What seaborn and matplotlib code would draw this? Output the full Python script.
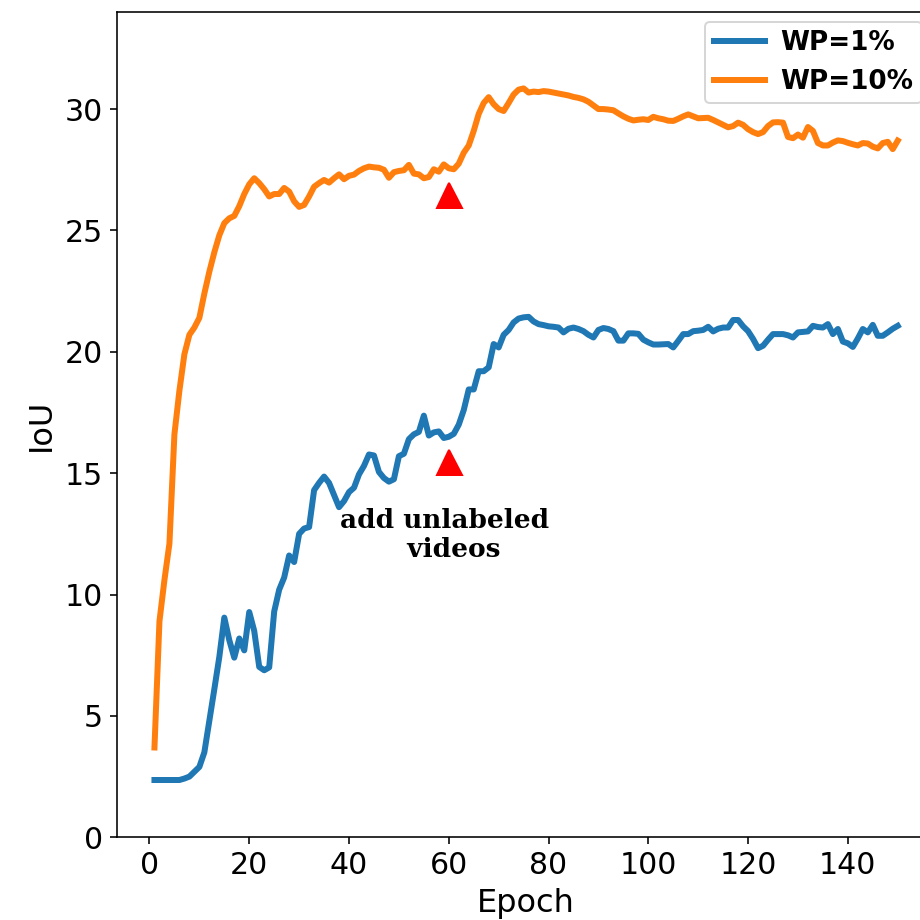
import numpy as np
import pandas as pd
import matplotlib
matplotlib.use("Agg")
import matplotlib.pyplot as plt
import seaborn as sns

epochs = list(range(1, 151))

wp1 = [
    2.36, 2.36, 2.36, 2.36, 2.36, 2.36, 2.42, 2.50, 2.70, 2.90,
    3.50, 4.80, 6.10, 7.43, 9.05, 8.12, 7.40, 8.19, 7.70, 9.28,
    8.50, 7.02, 6.88, 7.00, 9.30, 10.20, 10.70, 11.61, 11.34, 12.50,
    12.72, 12.78, 14.30, 14.60, 14.86, 14.60, 14.10, 13.60, 13.85, 14.22,
    14.40, 14.95, 15.30, 15.77, 15.73, 15.05, 14.80, 14.65, 14.75, 15.70,
    15.80, 16.40, 16.60, 16.70, 17.37, 16.55, 16.68, 16.72, 16.45, 16.50,
    16.62, 17.00, 17.60, 18.45, 18.45, 19.20, 19.20, 19.36, 20.32, 20.18,
    20.70, 20.90, 21.21, 21.37, 21.42, 21.44, 21.25, 21.14, 21.10, 21.05,
    21.03, 21.00, 20.80, 20.95, 21.00, 20.94, 20.85, 20.70, 20.59, 20.90,
    20.98, 20.94, 20.85, 20.46, 20.46, 20.76, 20.76, 20.74, 20.50, 20.39,
    20.30, 20.30, 20.31, 20.32, 20.18, 20.45, 20.73, 20.73, 20.85, 20.87,
    20.90, 21.03, 20.84, 20.95, 21.00, 21.00, 21.31, 21.31, 21.05, 20.85,
    20.53, 20.15, 20.25, 20.50, 20.73, 20.73, 20.73, 20.68, 20.59, 20.80,
    20.82, 20.84, 21.07, 21.02, 21.00, 21.14, 20.73, 20.94, 20.42, 20.35,
    20.20, 20.55, 20.94, 20.80, 21.11, 20.66, 20.66, 20.80, 20.95, 21.07,
]

wp10 = [
    3.70, 8.90, 10.60, 12.10, 16.60, 18.40, 19.90, 20.70, 21.00, 21.40,
    22.40, 23.30, 24.10, 24.80, 25.30, 25.50, 25.60, 26.00, 26.50, 26.90,
    27.15, 26.95, 26.70, 26.40, 26.50, 26.50, 26.75, 26.60, 26.20, 25.97,
    26.05, 26.40, 26.80, 26.95, 27.08, 26.97, 27.15, 27.31, 27.11, 27.25,
    27.30, 27.45, 27.56, 27.63, 27.60, 27.58, 27.50, 27.17, 27.40, 27.45,
    27.48, 27.70, 27.34, 27.31, 27.15, 27.20, 27.52, 27.42, 27.72, 27.56,
    27.52, 27.75, 28.20, 28.50, 29.10, 29.80, 30.25, 30.49, 30.20, 30.00,
    29.92, 30.25, 30.60, 30.80, 30.85, 30.68, 30.72, 30.70, 30.74, 30.72,
    30.68, 30.64, 30.60, 30.56, 30.50, 30.46, 30.40, 30.30, 30.15, 30.00,
    30.00, 29.98, 29.95, 29.82, 29.70, 29.60, 29.53, 29.56, 29.58, 29.55,
    29.68, 29.62, 29.58, 29.52, 29.51, 29.60, 29.70, 29.78, 29.70, 29.62,
    29.63, 29.64, 29.55, 29.45, 29.35, 29.25, 29.30, 29.44, 29.35, 29.17,
    29.05, 28.97, 29.05, 29.30, 29.45, 29.46, 29.44, 28.85, 28.80, 28.95,
    28.82, 29.26, 29.10, 28.60, 28.50, 28.50, 28.62, 28.71, 28.68, 28.61,
    28.55, 28.50, 28.60, 28.58, 28.45, 28.38, 28.60, 28.65, 28.35, 28.70,
]

series_labels = ["WP=1%", "WP=10%"]
marker_epoch = [60, 60]
marker_iou = [26.45, 15.45]
annotation = "add unlabeled\n  videos"

df = pd.DataFrame({
    "Epoch": epochs * 2,
    "IoU": wp1 + wp10,
    "series": [series_labels[0]] * len(epochs) + [series_labels[1]] * len(epochs),
})

DPI = 144
fig = plt.figure(figsize=(920 / DPI, 920 / DPI), dpi=DPI)
ax = fig.add_axes([0.1275, 0.0899, 0.8887, 0.8971])

sns.lineplot(data=df, x="Epoch", y="IoU", hue="series", hue_order=series_labels,
             palette=["#1f77b4", "#ff7f0e"], linewidth=3, ax=ax, legend=False,
             errorbar=None)

ax.plot(marker_epoch, marker_iou, linestyle="none", marker="^", markersize=12.5,
        color="red")

ax.text(59.1, 11.53, annotation, ha="center", va="baseline", fontsize=13.2,
        fontweight="bold", family="DejaVu Serif")

ax.set_ylim(0, 34)
ax.set_xticks([0, 20, 40, 60, 80, 100, 120, 140])
ax.tick_params(labelsize=15)
ax.set_xlabel("Epoch", fontsize=16)
ax.set_ylabel("IoU", fontsize=16)

ax.legend(ax.lines[:2], series_labels, loc="upper right",
          bbox_to_anchor=(922.1 / 920, 1 - 21.7 / 920),
          bbox_transform=fig.transFigure, borderaxespad=0,
          prop={"weight": "bold", "size": 13.15},
          borderpad=0.33, labelspacing=0.47, handlelength=1.94,
          handletextpad=0.6)

fig.savefig("out.png", dpi=DPI)
